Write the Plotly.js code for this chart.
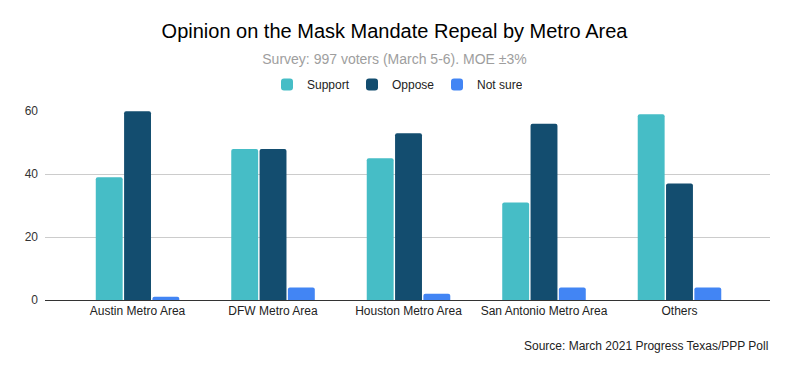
<!DOCTYPE html>
<html>
<head>
<meta charset="utf-8">
<script src="https://cdn.plot.ly/plotly-3.0.1.min.js"></script>
<style>html,body{margin:0;padding:0;background:#fff;}#chart{width:789px;height:371px;}</style>
</head>
<body>
<div id="chart"></div>
<script>
const categories = ["Austin Metro Area", "DFW Metro Area", "Houston Metro Area", "San Antonio Metro Area", "Others"];
const support = [39, 48, 45, 31, 59];
const oppose = [60, 48, 53, 56, 37];
const notSure = [1, 4, 2, 4, 4];
const yTicks = [0, 20, 40, 60];

const font = "Liberation Sans, Arial, sans-serif";
const traces = [
  {type: "bar", name: "Support", x: categories, y: support, marker: {color: "#46bdc6"}},
  {type: "bar", name: "Oppose", x: categories, y: oppose, marker: {color: "#134d6f"}},
  {type: "bar", name: "Not sure", x: categories, y: notSure, marker: {color: "#4285f4"}}
];
const layout = {
  width: 789, height: 371,
  margin: {l: 45, r: 19, t: 111, b: 71},
  paper_bgcolor: "#fff", plot_bgcolor: "#fff",
  font: {family: font, size: 12, color: "#222"},
  title: {
    text: "Opinion on the Mask Mandate Repeal by Metro Area<br><span style='font-size:14px;color:#9e9e9e'>Survey: 997 voters (March 5-6). MOE ±3%</span>",
    font: {family: font, size: 20, color: "#000"},
    x: 0.5, xref: "container", xanchor: "center",
    y: 0.897, yref: "container", yanchor: "top"
  },
  barmode: "group",
  bargap: 0.373,
  bargroupgap: 0.05,
  barcornerradius: 2,
  showlegend: true,
  legend: {
    orientation: "h", x: 0.5, xref: "container", xanchor: "center",
    y: 0.772, yref: "container", yanchor: "middle",
    font: {family: font, size: 12, color: "#222"},
    itemwidth: 30, traceorder: "normal",
    entrywidth: 40, entrywidthmode: "pixels"
  },
  xaxis: {
    type: "category",
    range: [-0.683, 4.668],
    showgrid: false,
    showline: true, linecolor: "#333", linewidth: 1,
    ticks: "", tickfont: {family: font, size: 12, color: "#222"},
    fixedrange: true
  },
  yaxis: {
    range: [0, 60.05],
    tickvals: yTicks, ticktext: yTicks.map(String),
    showgrid: true, gridcolor: "#cccccc", gridwidth: 1,
    zeroline: false, showline: false,
    ticks: "", ticklen: 0, ticklabelstandoff: 6,
    tickfont: {family: font, size: 12, color: "#333"},
    fixedrange: true
  },
  annotations: [{
    text: "Source: March 2021 Progress Texas/PPP Poll",
    xref: "paper", yref: "paper", x: 1, y: -0.243,
    xanchor: "right", yanchor: "middle", showarrow: false,
    font: {family: font, size: 12, color: "#222"}
  }]
};
Plotly.newPlot("chart", traces, layout, {displayModeBar: false, staticPlot: true});
</script>
</body>
</html>
